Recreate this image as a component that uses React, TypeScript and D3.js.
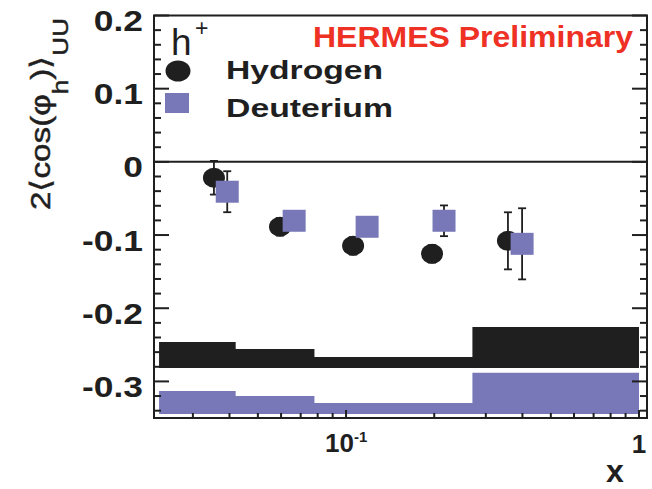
import React from 'react';
import * as d3 from 'd3';

// x (Bjorken) bin centres and asymmetry values
const hydrogenX = [0.0354, 0.0595, 0.1057, 0.1966, 0.357];
const hydrogenY = [-0.0217, -0.0887, -0.1147, -0.1257, -0.1079];
const hydrogenErr = [0.023, 0.012, 0.012, 0.012, 0.039];

const deuteriumX = [0.0393, 0.0665, 0.118, 0.216, 0.399];
const deuteriumY = [-0.0408, -0.0805, -0.0887, -0.0805, -0.112];
const deuteriumErr = [0.028, 0.012, 0.012, 0.021, 0.0486];

// systematic error bands
const binEdges = [0.023, 0.042, 0.078, 0.145, 0.27, 1.0];
const hydrogenSysTop = [-0.246, -0.2556, -0.2666, -0.2666, -0.2255];
const hydrogenSysBase = -0.2816;
const deuteriumSysTop = [-0.313, -0.32, -0.3295, -0.3295, -0.288];
const deuteriumSysBase = -0.3445;

const yTickValues = [0.2, 0.1, 0, -0.1, -0.2, -0.3];
const yTickLabels = ['0.2', '0.1', '0', '-0.1', '-0.2', '-0.3'];
const xMajorTicks = [0.1, 1];
const xMinorTicks = [0.03, 0.04, 0.05, 0.06, 0.07, 0.08, 0.09, 0.2, 0.3, 0.4, 0.5, 0.6, 0.7, 0.8, 0.9];

const INK = '#1f1f1f';
const BLUE = '#7878b9';
const RED = '#ee3124';
const FONT = '"Liberation Sans", Arial, Helvetica, sans-serif';

const App = () => {
  const width = 652;
  const height = 489;
  const left = 154, right = 647, top = 15.5, bottom = 418;

  const x = d3.scaleLog().domain([0.0221, 1.065]).range([left, right]);
  const y = d3.scaleLinear().domain([-0.35, 0.2]).range([bottom, top]);

  const band = (tops, base) => {
    const pts = tops.map((t, i) => [binEdges[i], t]);
    pts.push([binEdges[binEdges.length - 1], tops[tops.length - 1]]);
    return d3.area()
      .x(d => x(d[0]))
      .y0(y(base))
      .y1(d => y(d[1]))
      .curve(d3.curveStepAfter)(pts);
  };

  // minor y ticks every 0.02
  const yMinor = d3.range(-17, 11).filter(i => i % 5 !== 0).map(i => i * 0.02);

  const errorBars = (xs, ys, es) => xs.map((xv, i) => {
    const cx = x(xv);
    const y1 = y(ys[i] + es[i]);
    const y2 = y(ys[i] - es[i]);
    return (
      <g key={i} stroke={INK} strokeWidth={1.8}>
        <line x1={cx} x2={cx} y1={y1} y2={y2} />
        <line x1={cx - 4} x2={cx + 4} y1={y1} y2={y1} />
        <line x1={cx - 4} x2={cx + 4} y1={y2} y2={y2} />
      </g>
    );
  });

  return (
    <svg width={width} height={height} style={{ position: 'absolute', left: 0, top: 0, background: '#fff' }}
      fontFamily={FONT}>
      {/* systematic bands */}
      <path d={band(hydrogenSysTop, hydrogenSysBase)} fill={INK} />
      <path d={band(deuteriumSysTop, deuteriumSysBase)} fill={BLUE} />

      {/* zero line */}
      <line x1={left} x2={right} y1={y(0)} y2={y(0)} stroke={INK} strokeWidth={2} />

      {/* data */}
      {errorBars(hydrogenX, hydrogenY, hydrogenErr)}
      {hydrogenX.map((xv, i) => (
        <ellipse key={i} cx={x(xv)} cy={y(hydrogenY[i])} rx={11} ry={10} fill={INK} />
      ))}
      {errorBars(deuteriumX, deuteriumY, deuteriumErr)}
      {deuteriumX.map((xv, i) => (
        <rect key={i} x={x(xv) - 11.5} y={y(deuteriumY[i]) - 11} width={23} height={22} fill={BLUE} />
      ))}

      {/* frame + ticks */}
      <g stroke={INK} strokeWidth={2}>
        {yTickValues.map(v => (
          <g key={v}>
            <line x1={left} x2={left + 15} y1={y(v)} y2={y(v)} />
            <line x1={right} x2={right - 15} y1={y(v)} y2={y(v)} />
          </g>
        ))}
        {yMinor.map(v => (
          <g key={v}>
            <line x1={left} x2={left + 7} y1={y(v)} y2={y(v)} />
            <line x1={right} x2={right - 7} y1={y(v)} y2={y(v)} />
          </g>
        ))}
        {xMinorTicks.map(v => (
          <line key={v} x1={x(v)} x2={x(v)} y1={bottom} y2={bottom - 5} />
        ))}
        {xMajorTicks.map(v => (
          <line key={v} x1={x(v)} x2={x(v)} y1={bottom} y2={bottom - 8} />
        ))}
        <rect x={left} y={top} width={right - left} height={bottom - top} fill="none" />
      </g>

      {/* y tick labels */}
      {yTickValues.map((v, i) => (
        <text key={v} transform={`translate(143,${y(v) + 15.5}) scale(1.18,1)`} textAnchor="end"
          fontSize={30} fontWeight="bold" fill={INK}>{yTickLabels[i]}</text>
      ))}

      {/* x tick labels */}
      <text x={325} y={452} fontSize={26} fontWeight="bold" fill={INK}>
        10<tspan fontSize={15} dy={-10}>-1</tspan>
      </text>
      <text x={x(1)} y={453} fontSize={26} fontWeight="bold" fill={INK} textAnchor="middle">1</text>
      <text x={615} y={482} fontSize={32} fontWeight="bold" fill={INK} textAnchor="middle">x</text>

      {/* y title */}
      <text transform="translate(50,210) rotate(-90)" fontSize={28} fill={INK}
        stroke={INK} strokeWidth={0.5}
        textLength={192} lengthAdjust="spacingAndGlyphs">
        2⟨cos(φ<tspan fontSize={22} dy={18}>h</tspan><tspan dy={-18}>)⟩</tspan><tspan fontSize={22} dy={18}>UU</tspan>
      </text>

      {/* legend */}
      <text x={171} y={55} fontSize={37} fill={INK}>h</text>
      <text x={195} y={36} fontSize={23} fill={INK}>+</text>
      <ellipse cx={178} cy={71} rx={12.5} ry={10.5} fill={INK} />
      <text x={226} y={79} fontSize={25} fontWeight="bold" fill={INK}
        textLength={157} lengthAdjust="spacingAndGlyphs">Hydrogen</text>
      <rect x={165} y={93} width={24} height={20} fill={BLUE} />
      <text x={226} y={117} fontSize={25} fontWeight="bold" fill={INK}
        textLength={167} lengthAdjust="spacingAndGlyphs">Deuterium</text>

      <text x={313} y={47} fontSize={30} fontWeight="bold" fill={RED}
        textLength={320} lengthAdjust="spacingAndGlyphs">HERMES Preliminary</text>
    </svg>
  );
};

export default App;
